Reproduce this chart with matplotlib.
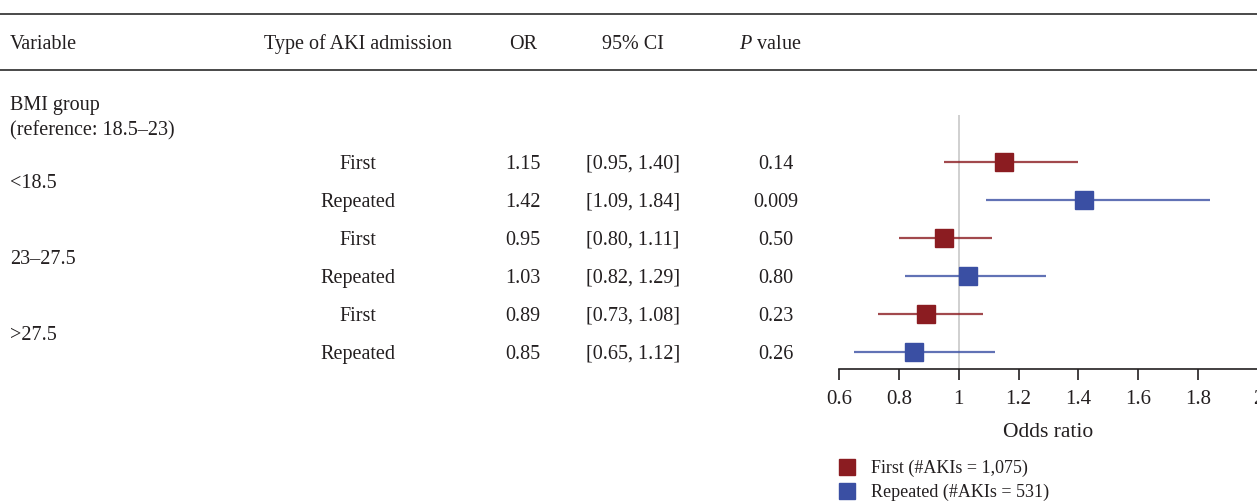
import matplotlib
matplotlib.use("Agg")
import matplotlib.pyplot as plt
from matplotlib.lines import Line2D
from matplotlib.transforms import blended_transform_factory

plt.rcParams["font.family"] = ["Liberation Serif", "DejaVu Serif"]
plt.rcParams["font.size"] = 14.5
plt.rcParams["mathtext.fontset"] = "custom"
plt.rcParams["mathtext.it"] = "Liberation Serif:italic"
plt.rcParams["mathtext.rm"] = "Liberation Serif"

# table / forest data
groups = ["<18.5", "23\u201327.5", ">27.5"]
admission = ["First", "Repeated"] * 3
odds = [1.15, 1.42, 0.95, 1.03, 0.89, 0.85]
ci_low = [0.95, 1.09, 0.80, 0.82, 0.73, 0.65]
ci_high = [1.40, 1.84, 1.11, 1.29, 1.08, 1.12]
p_values = ["0.14", "0.009", "0.50", "0.80", "0.23", "0.26"]
xticks = [0.6, 0.8, 1.0, 1.2, 1.4, 1.6, 1.8, 2.0]
xticklabels = ["0.6", "0.8", "1", "1.2", "1.4", "1.6", "1.8", "2"]
legend_labels = ["First (#AKIs = 1,075)", "Repeated (#AKIs = 531)"]

RED = "#8b1c21"
BLUE = "#3a4fa3"
colors = [RED, BLUE] * 3
TEXT = "#231f20"

W, H = 1257, 504
fig = plt.figure(figsize=(W / 100, H / 100), dpi=100)


def fx(px):
    return px / W


def fy(py):
    return 1 - py / H


# forest axes: rows indexed 0..5 from top
ax = fig.add_axes([fx(839), fy(369), (1258 - 839) / W, (369 - 115) / H])
ax.set_xlim(0.6, 2.0)
ax.set_ylim(5 + 17 / 38, -1 - 9 / 38)
ax.axvline(1.0, color="#c8c8c8", lw=1.2, zorder=0)

for i, (o, lo, hi, c) in enumerate(zip(odds, ci_low, ci_high, colors)):
    ax.plot([lo, hi], [i, i], color=c, lw=1.6, alpha=0.8, solid_capstyle="butt")
    ax.plot(o, i, marker="s", ms=12.5, color=c, mec=c)

for s in ["top", "right", "left"]:
    ax.spines[s].set_visible(False)
ax.spines["bottom"].set_color(TEXT)
ax.spines["bottom"].set_linewidth(1.2)
ax.set_yticks([])
ax.set_xticks(xticks)
ax.set_xticklabels(xticklabels)
ax.tick_params(axis="x", length=8, width=1.2, color=TEXT, labelcolor=TEXT, pad=7,
               labelsize=15)
ax.set_xlabel("Odds ratio", color=TEXT, labelpad=10, fontsize=15.5)
ax.patch.set_visible(False)

# table text, x in figure pixels, y in row units
tr = blended_transform_factory(fig.transFigure, ax.transData)
row_kw = dict(transform=tr, ha="center", va="center_baseline", color=TEXT)
for i in range(6):
    fig.text(fx(358), i, admission[i], **row_kw)
    fig.text(fx(523), i, f"{odds[i]:.2f}", **row_kw)
    fig.text(fx(633), i, f"[{ci_low[i]:.2f}, {ci_high[i]:.2f}]", **row_kw)
    fig.text(fx(776), i, p_values[i], **row_kw)
for k, g in enumerate(groups):
    fig.text(fx(10), 2 * k + 0.5, g, transform=tr, ha="left", va="center_baseline",
             color=TEXT)

fig.text(fx(10), fy(103), "BMI group", ha="left", va="center_baseline", color=TEXT)
fig.text(fx(10), fy(128), "(reference: 18.5\u201323)", ha="left", va="center_baseline",
         color=TEXT)

# header
for py in (14, 70):
    fig.add_artist(Line2D([0, 1], [fy(py), fy(py)], color="#3a3a3a", lw=1.3))
fig.text(fx(10), fy(42), "Variable", ha="left", va="center_baseline", color=TEXT)
fig.text(fx(358), fy(42), "Type of AKI admission", ha="center", va="center_baseline",
         color=TEXT)
fig.text(fx(523), fy(42), "OR", ha="center", va="center_baseline", color=TEXT)
fig.text(fx(633), fy(42), "95% CI", ha="center", va="center_baseline", color=TEXT)
fig.text(fx(770), fy(42), "$P$ value", ha="center", va="center_baseline", color=TEXT)

handles = [Line2D([], [], ls="none", marker="s", ms=11.5, color=c) for c in (RED, BLUE)]
fig.legend(handles, legend_labels, loc="upper left", bbox_to_anchor=(fx(829), fy(451)),
           frameon=False, handlelength=1.0, handletextpad=0.85, labelspacing=0.35,
           borderpad=0, labelcolor=TEXT, fontsize=13)

fig.savefig("out.png", dpi=100)
